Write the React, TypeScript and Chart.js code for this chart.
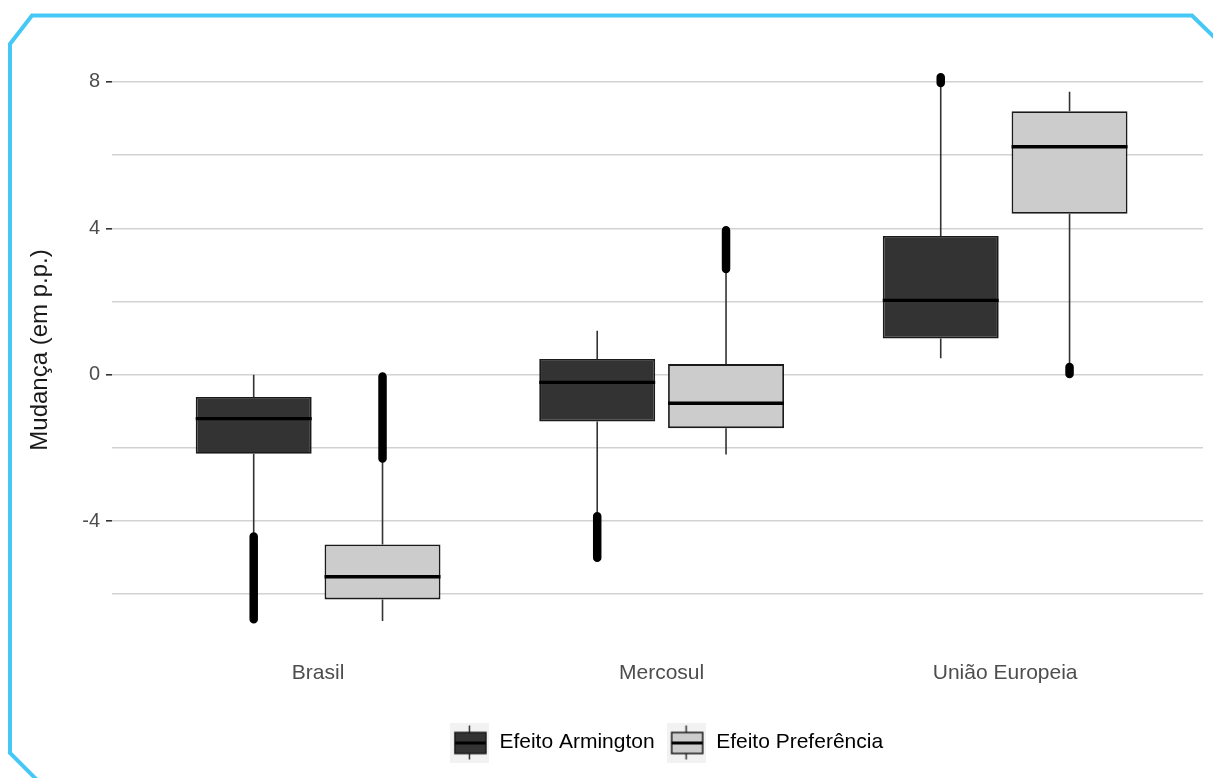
import React, { useEffect, useRef } from 'react';
import { Chart, registerables } from 'chart.js';

Chart.register(...registerables);

// ---------- data ----------
const categories = ['Brasil', 'Mercosul', 'União Europeia'];
const seriesNames = ['Efeito Armington', 'Efeito Preferência'];
const yTickValues = [-6, -4, -2, 0, 2, 4, 6, 8];
const yLabeledTicks = [-4, 0, 4, 8];

// Efeito Armington
const armQ1 = [-2.16, -1.28, 0.99];
const armMedian = [-1.2, -0.21, 2.03];
const armQ3 = [-0.61, 0.43, 3.79];
const armWhiskerLow = [-4.32, -3.78, 0.45];
const armWhiskerHigh = [0.0, 1.2, 7.92];
const armOutlierLow = [-6.68, -5.0, 7.97];
const armOutlierHigh = [-4.42, -3.87, 8.13];

// Efeito Preferência
const prefQ1 = [-6.14, -1.46, 4.4];
const prefMedian = [-5.52, -0.78, 6.23];
const prefQ3 = [-4.64, 0.29, 7.2];
const prefWhiskerLow = [-6.73, -2.18, 0.25];
const prefWhiskerHigh = [-2.33, 2.82, 7.73];
const prefOutlierLow = [-2.29, 2.89, 0.02];
const prefOutlierHigh = [-0.05, 3.95, 0.21];

// ---------- styling ----------
const FONT = "'Liberation Sans', Arial, sans-serif";
const DODGE = 0.1875;
const HALF_BOX = 0.16875;
const FILLS = ['#333333', '#cccccc'];
const BOX_BORDER = '#1a1a1a';

function makeKey(fill: string): HTMLCanvasElement {
  const c = document.createElement('canvas');
  c.width = 39;
  c.height = 40;
  const g = c.getContext('2d') as CanvasRenderingContext2D;
  g.fillStyle = '#f2f2f2';
  g.fillRect(0, 0, 39, 40);
  g.strokeStyle = '#333333';
  g.lineWidth = 1.5;
  g.beginPath();
  g.moveTo(19.5, 3);
  g.lineTo(19.5, 10);
  g.moveTo(19.5, 31);
  g.lineTo(19.5, 37);
  g.stroke();
  g.fillStyle = fill;
  g.fillRect(5, 10, 31, 21);
  g.strokeStyle = BOX_BORDER;
  g.strokeRect(5, 10, 31, 21);
  g.lineWidth = 3;
  g.strokeStyle = '#000000';
  g.beginPath();
  g.moveTo(5, 20.5);
  g.lineTo(36, 20.5);
  g.stroke();
  return c;
}

function boxDatasets(
  name: string, fill: string, offset: number,
  q1: number[], med: number[], q3: number[],
  wLo: number[], wHi: number[], oLo: number[], oHi: number[]
): any[] {
  const xs = categories.map((_, i) => i + offset);
  return [
    {
      type: 'bar',
      label: name,
      data: xs.map((x, i) => ({ x, y: [q1[i], q3[i]] })),
      backgroundColor: fill,
      borderColor: BOX_BORDER,
      borderWidth: 1.8,
      borderSkipped: false,
      grouped: false,
      barPercentage: 0.9,
      categoryPercentage: 1,
      order: 2,
    },
    {
      type: 'line',
      label: name + ' whiskers',
      data: xs.flatMap((x, i) => [
        { x, y: wLo[i] }, { x, y: q1[i] }, { x, y: null },
        { x, y: q3[i] }, { x, y: wHi[i] }, { x, y: null },
      ]),
      borderColor: '#333333',
      borderWidth: 1.6,
      pointRadius: 0,
      spanGaps: false,
      order: 3,
    },
    {
      type: 'line',
      label: name + ' median',
      data: xs.flatMap((x, i) => [
        { x: x - HALF_BOX, y: med[i] }, { x: x + HALF_BOX, y: med[i] }, { x: x + HALF_BOX, y: null },
      ]),
      borderColor: '#000000',
      borderWidth: 3.4,
      pointRadius: 0,
      spanGaps: false,
      order: 1,
    },
    {
      type: 'line',
      label: name + ' outliers',
      data: xs.flatMap((x, i) => [
        { x, y: oLo[i] }, { x, y: oHi[i] }, { x, y: null },
      ]),
      borderColor: '#000000',
      borderWidth: 8.5,
      borderCapStyle: 'round',
      pointRadius: 0,
      spanGaps: false,
      order: 1,
    },
  ];
}

const frame = {
  id: 'frame',
  afterDraw(chart: any) {
    const ctx = chart.ctx;
    ctx.save();
    ctx.strokeStyle = '#45c8f5';
    ctx.lineWidth = 4;
    ctx.lineJoin = 'miter';
    ctx.beginPath();
    ctx.moveTo(37, 780);
    ctx.lineTo(10, 753);
    ctx.lineTo(10, 44);
    ctx.lineTo(32, 15.5);
    ctx.lineTo(1192, 15.5);
    ctx.lineTo(1215, 38);
    ctx.stroke();
    ctx.restore();
  },
};

const legendShift = {
  id: 'legendShift',
  afterLayout(chart: any) {
    if (chart.legend) {
      chart.legend.left += 9;
      chart.legend.right += 9;
    }
  },
};

export default function App() {
  const ref = useRef<HTMLCanvasElement | null>(null);

  useEffect(() => {
    if (!ref.current) return;
    const keys = FILLS.map(makeKey);
    const datasets = [
      ...boxDatasets(seriesNames[0], FILLS[0], -DODGE, armQ1, armMedian, armQ3,
        armWhiskerLow, armWhiskerHigh, armOutlierLow, armOutlierHigh),
      ...boxDatasets(seriesNames[1], FILLS[1], DODGE, prefQ1, prefMedian, prefQ3,
        prefWhiskerLow, prefWhiskerHigh, prefOutlierLow, prefOutlierHigh),
    ];

    const chart = new Chart(ref.current, {
      type: 'bar',
      data: { datasets } as any,
      plugins: [frame, legendShift],
      options: {
        animation: false,
        responsive: true,
        maintainAspectRatio: false,
        events: [],
        layout: { padding: { top: 49, right: 10, bottom: 15, left: 0 } },
        plugins: {
          tooltip: { enabled: false },
          legend: {
            display: true,
            position: 'bottom',
            fullSize: false,
            labels: {
              usePointStyle: true,
              pointStyleWidth: 39,
              padding: 12,
              color: '#1a1a1a',
              font: { family: FONT, size: 21 },
              generateLabels: () =>
                seriesNames.map((n, i) => ({
                  text: n,
                  pointStyle: keys[i],
                  fillStyle: FILLS[i],
                  strokeStyle: BOX_BORDER,
                  lineWidth: 0,
                  hidden: false,
                  datasetIndex: i * 4,
                })),
            },
            onClick: () => {},
          },
        },
        scales: {
          x: {
            type: 'linear',
            min: -0.6,
            max: 2.576,
            offset: false,
            grid: { display: false, drawTicks: false, tickLength: 0, offset: false },
            border: { display: false },
            afterBuildTicks: (axis: any) => {
              axis.ticks = categories.map((_, i) => ({ value: i }));
            },
            afterFit: (axis: any) => {
              axis.height = 69;
            },
            ticks: {
              padding: 10,
              color: '#4d4d4d',
              font: { family: FONT, size: 21 },
              maxRotation: 0,
              autoSkip: false,
              callback: (v: any) => categories[Math.round(Number(v))] ?? '',
            },
          },
          y: {
            type: 'linear',
            min: -7.55,
            max: 8.9,
            afterBuildTicks: (axis: any) => {
              axis.ticks = yTickValues.map((v) => ({ value: v }));
            },
            afterFit: (axis: any) => {
              axis.width = 112;
            },
            grid: {
              color: '#d2d2d2',
              lineWidth: 1.6,
              drawTicks: true,
              tickLength: 6,
              tickWidth: 1.6,
              tickColor: (c: any) =>
                c.tick && yLabeledTicks.includes(c.tick.value) ? '#333333' : 'rgba(0,0,0,0)',
            },
            border: { display: false },
            ticks: {
              padding: 6,
              color: '#4d4d4d',
              font: { family: FONT, size: 20 },
              autoSkip: false,
              callback: (v: any) => (yLabeledTicks.includes(Number(v)) ? String(v) : ''),
            },
            title: {
              display: true,
              text: 'Mudança (em p.p.)',
              color: '#1a1a1a',
              font: { family: FONT, size: 24 },
              padding: { top: 26, bottom: 0 },
            },
          },
        },
      } as any,
    });
    return () => chart.destroy();
  }, []);

  return (
    <div style={{ position: 'fixed', left: 0, top: 0, width: 1213, height: 778, background: '#ffffff' }}>
      <canvas ref={ref} />
    </div>
  );
}
